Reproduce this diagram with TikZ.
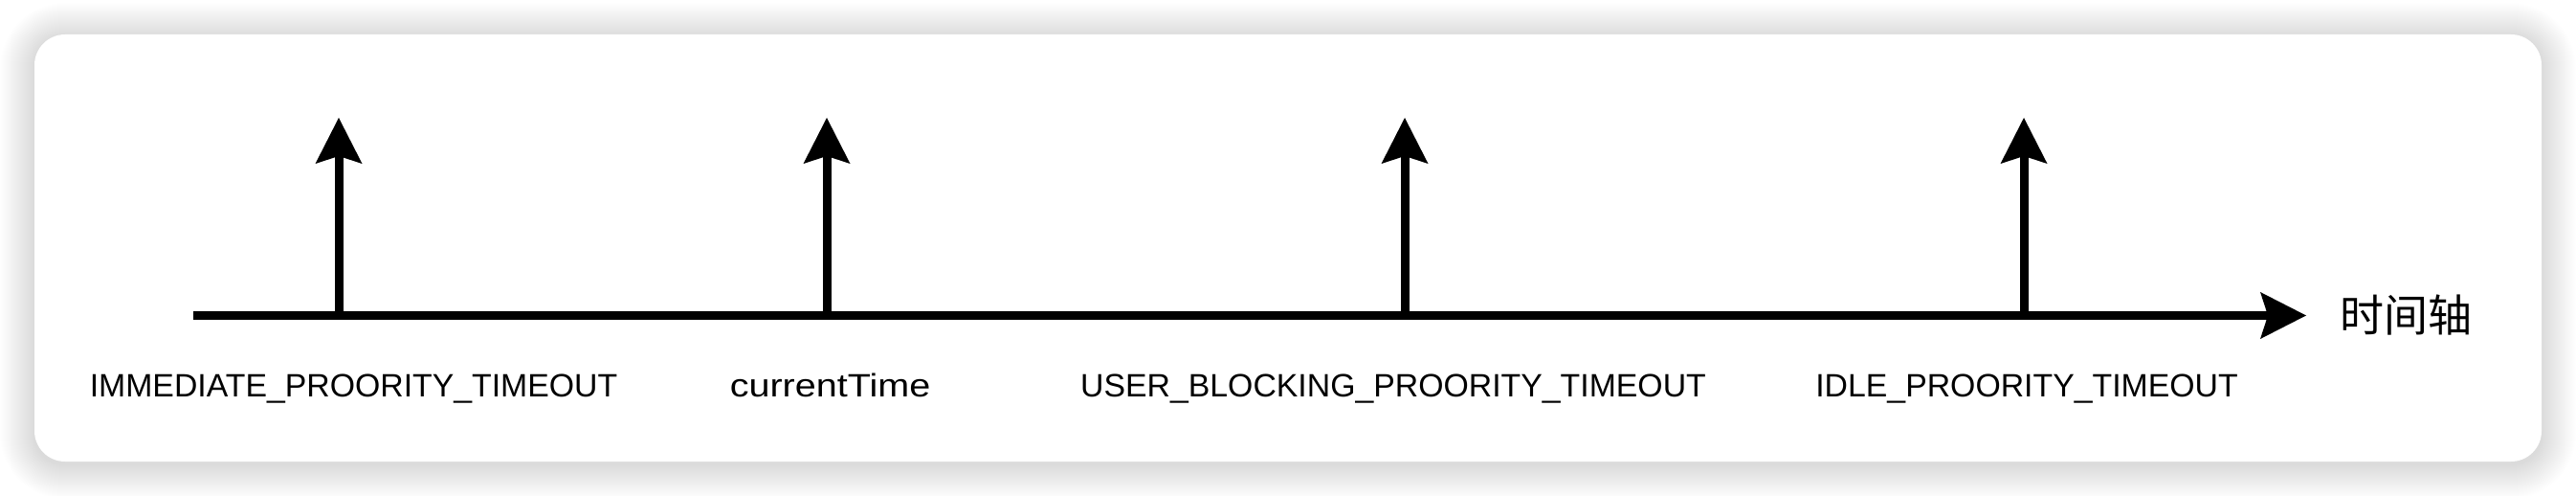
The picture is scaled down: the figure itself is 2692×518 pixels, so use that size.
\documentclass[tikz,border=0pt]{standalone}
\usepackage{fontspec}
\usepackage{graphicx}
\setmainfont{Liberation Sans}
\newfontfamily\cjkfont{Noto Sans CJK SC}
\usetikzlibrary{arrows.meta}
\begin{document}
\begin{tikzpicture}[x=1pt,y=-1pt,
  headtip/.tip={Stealth[length=48pt,width=49pt,inset=8pt,line width=0pt]},
  axisline/.style={line width=9pt,line cap=butt,-headtip},
  tickarrow/.style={line width=9pt,line cap=butt,-headtip},
  lbl/.style={inner sep=0pt,anchor=base,font=\fontsize{33.8pt}{40pt}\selectfont},
  cjklbl/.style={inner sep=0pt,font=\cjkfont\fontsize{46pt}{52pt}\selectfont}
]
\useasboundingbox (0,0) rectangle (2692,518);
\fill[white] (0,0) rectangle (2692,518);
% soft shadow of the card
\foreach \i in {1,...,36}{
  \pgfmathsetmacro\rr{32+\i}
  \fill[black,opacity=0.0045,rounded corners=\rr pt]
    (36-\i,36-\i+3) rectangle (2656+\i,482+\i+3);
}
% card
\fill[white,rounded corners=32pt] (36,36) rectangle (2656,482);

% axis
\coordinate (axstart) at (202,329.5);
\coordinate (axend) at (2410,329.5);
\draw[axisline] (axstart) -- (axend);

% tick arrows
\coordinate (t1) at (354,329.5);  \coordinate (t1top) at (354,123);
\coordinate (t2) at (864,329.5);  \coordinate (t2top) at (864,123);
\coordinate (t3) at (1468,329.5); \coordinate (t3top) at (1468,123);
\coordinate (t4) at (2115,329.5); \coordinate (t4top) at (2115,123);
\draw[tickarrow] (t1) -- (t1top);
\draw[tickarrow] (t2) -- (t2top);
\draw[tickarrow] (t3) -- (t3top);
\draw[tickarrow] (t4) -- (t4top);

% labels
\node[lbl] (l1) at (369.5,414.5) {IMMEDIATE\_PROORITY\_TIMEOUT};
\node[lbl] (l2) at (867.5,414.5) {\scalebox{1.17}[1]{currentTime}};
\node[lbl] (l3) at (1456,414.5) {USER\_BLOCKING\_PROORITY\_TIMEOUT};
\node[lbl] (l4) at (2118,414.5) {IDLE\_PROORITY\_TIMEOUT};
\node[cjklbl] (axlabel) at (2514.5,329) {时间轴};
\end{tikzpicture}
\end{document}
